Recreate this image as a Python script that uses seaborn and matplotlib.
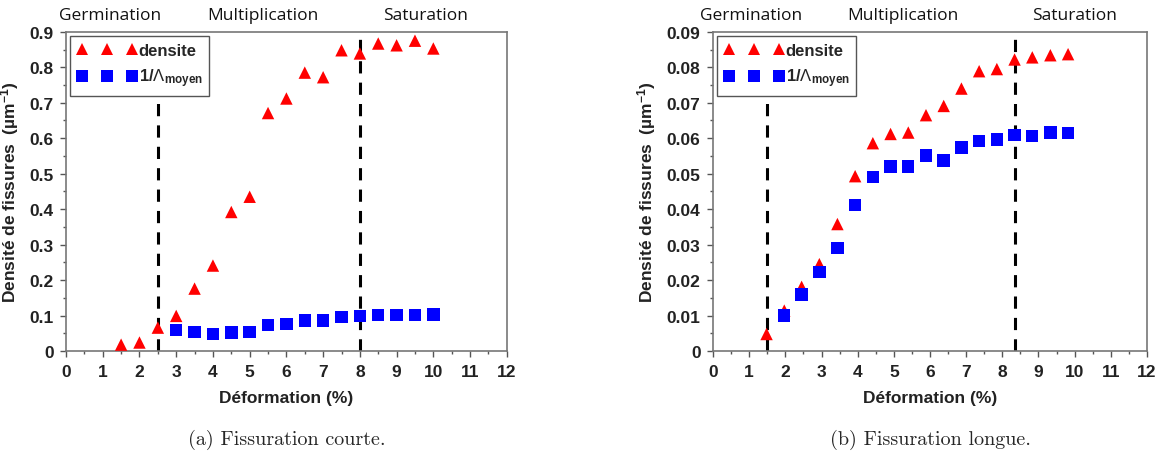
import numpy as np
import pandas as pd
import matplotlib
matplotlib.use("Agg")
import matplotlib.pyplot as plt
import matplotlib.transforms as mtransforms
from matplotlib.ticker import MultipleLocator
import seaborn as sns

# Données
# (a) fissuration courte
x_a_dens = [1.5, 2, 2.5, 3, 3.5, 4, 4.5, 5, 5.5, 6, 6.5, 7, 7.5, 8, 8.5, 9, 9.5, 10]
y_a_dens = [0.018, 0.024, 0.066, 0.099, 0.176, 0.241, 0.392, 0.435, 0.671, 0.712,
            0.785, 0.772, 0.848, 0.839, 0.867, 0.862, 0.875, 0.853]
x_a_inv = [3, 3.5, 4, 4.5, 5, 5.5, 6, 6.5, 7, 7.5, 8, 8.5, 9, 9.5, 10]
y_a_inv = [0.059, 0.054, 0.048, 0.052, 0.054, 0.074, 0.077, 0.086, 0.086, 0.096,
           0.098, 0.101, 0.101, 0.102, 0.103]
lignes_a = [2.5, 8.0]

# (b) fissuration longue
x_b_dens = [1.48, 1.97, 2.45, 2.94, 3.44, 3.93, 4.42, 4.91, 5.40, 5.89, 6.38, 6.87,
            7.36, 7.85, 8.34, 8.83, 9.33, 9.82]
y_b_dens = [0.0048, 0.0114, 0.0181, 0.0245, 0.0358, 0.0493, 0.0586, 0.0612, 0.0616,
            0.0665, 0.0691, 0.0740, 0.0789, 0.0795, 0.0822, 0.0828, 0.0834, 0.0837]
x_b_inv = [1.97, 2.45, 2.94, 3.44, 3.93, 4.42, 4.91, 5.40, 5.89, 6.38, 6.87, 7.36,
           7.85, 8.34, 8.83, 9.33, 9.82]
y_b_inv = [0.0100, 0.0159, 0.0223, 0.0291, 0.0411, 0.0490, 0.0520, 0.0520, 0.0551,
           0.0537, 0.0574, 0.0592, 0.0596, 0.0609, 0.0607, 0.0616, 0.0614]
lignes_b = [1.5, 8.35]

phases = ["Germination", "Multiplication", "Saturation"]
pos_phases_a = [1.2, 5.35, 9.8]
pos_phases_b = [1.05, 5.25, 10.0]

lab_dens = "densite"
lab_inv = r"1/$\Lambda_{\mathregular{moyen}}$"

sns.set_style("ticks")
plt.rcParams['font.family'] = ['Liberation Sans', 'DejaVu Sans']
plt.rcParams['mathtext.fontset'] = 'custom'
plt.rcParams['mathtext.rm'] = 'Liberation Sans'
plt.rcParams['mathtext.it'] = 'Liberation Sans'


def make_df(xd, yd, xi, yi):
    d1 = pd.DataFrame({"x": xd, "y": yd, "serie": lab_dens})
    d2 = pd.DataFrame({"x": xi, "y": yi, "serie": lab_inv})
    return pd.concat([d1, d2], ignore_index=True)


fig = plt.figure(figsize=(11.6, 4.56), dpi=100)
ax_a = fig.add_axes([0.0569, 0.228, 0.380, 0.700])
ax_b = fig.add_axes([0.6147, 0.228, 0.374, 0.700])

panneaux = [
    (ax_a, make_df(x_a_dens, y_a_dens, x_a_inv, y_a_inv), lignes_a, pos_phases_a,
     0.9, 0.1, 0.05, "{:.1f}", "(a) Fissuration courte."),
    (ax_b, make_df(x_b_dens, y_b_dens, x_b_inv, y_b_inv), lignes_b, pos_phases_b,
     0.09, 0.01, 0.005, "{:.2f}", "(b) Fissuration longue."),
]

for ax, df, lignes, pos_ph, ymax, ymaj, ymin_, fmt, caption in panneaux:
    sns.scatterplot(data=df, x="x", y="y", hue="serie", style="serie",
                    palette={lab_dens: "#ff0000", lab_inv: "#0000ff"},
                    markers={lab_dens: "^", lab_inv: "s"},
                    s=80, linewidth=0, ax=ax, zorder=3)
    for xv in lignes:
        ax.axvline(xv, color="black", linestyle=(0, (4, 3)), linewidth=2.2, zorder=2)
    ax.set_xlim(0, 12)
    ax.set_ylim(0, ymax)
    ax.xaxis.set_major_locator(MultipleLocator(1))
    ax.xaxis.set_minor_locator(MultipleLocator(0.5))
    ax.yaxis.set_major_locator(MultipleLocator(ymaj))
    ax.yaxis.set_minor_locator(MultipleLocator(ymin_))
    ticks = ax.get_yticks()
    ax.set_yticks(ticks)
    ax.set_yticklabels(["0" if t == 0 else fmt.format(t) for t in ticks])
    ax.set_ylim(0, ymax)
    ax.tick_params(axis="both", which="major", direction="out", length=4,
                   width=1, color="#555555", labelsize=12.5, pad=5)
    ax.tick_params(axis="both", which="minor", direction="out", length=2.5,
                   width=1, color="#555555")
    for tl in ax.get_xticklabels() + ax.get_yticklabels():
        tl.set_fontweight("bold")
        tl.set_color("#222222")
    for sp in ax.spines.values():
        sp.set_visible(True)
        sp.set_color("#777777")
        sp.set_linewidth(1.2)
    ax.set_xlabel("Déformation (%)", fontsize=12.5, fontweight="bold", labelpad=8,
                  color="#222222")
    ax.set_ylabel(r"Densité de fissures  (µm$^{\mathregular{-1}}$)", fontsize=12.5,
                  fontweight="bold", labelpad=6, color="#222222")

    trans = mtransforms.blended_transform_factory(ax.transData, ax.transAxes)
    for nom, xp in zip(phases, pos_ph):
        ax.text(xp, 1.053, nom, transform=trans, ha="center", va="center",
                fontsize=12.5, family=["Open Sans", "DejaVu Sans"], color="#111111")

    handles, labels = ax.get_legend_handles_labels()
    leg = ax.legend(handles, labels, loc="upper left", numpoints=3, scatterpoints=3,
                    handlelength=3.6, handletextpad=0.1, borderpad=0.4,
                    labelspacing=0.55, borderaxespad=0.25, fancybox=False,
                    edgecolor="#555555", framealpha=1,
                    prop={"size": 12, "weight": "bold"})
    leg.get_frame().set_linewidth(1.0)

    ax.text(0.5, -0.276, caption, transform=ax.transAxes, ha="center", va="center",
            fontsize=14.5, family="cmr10")

fig.savefig("out.png", dpi=100)
